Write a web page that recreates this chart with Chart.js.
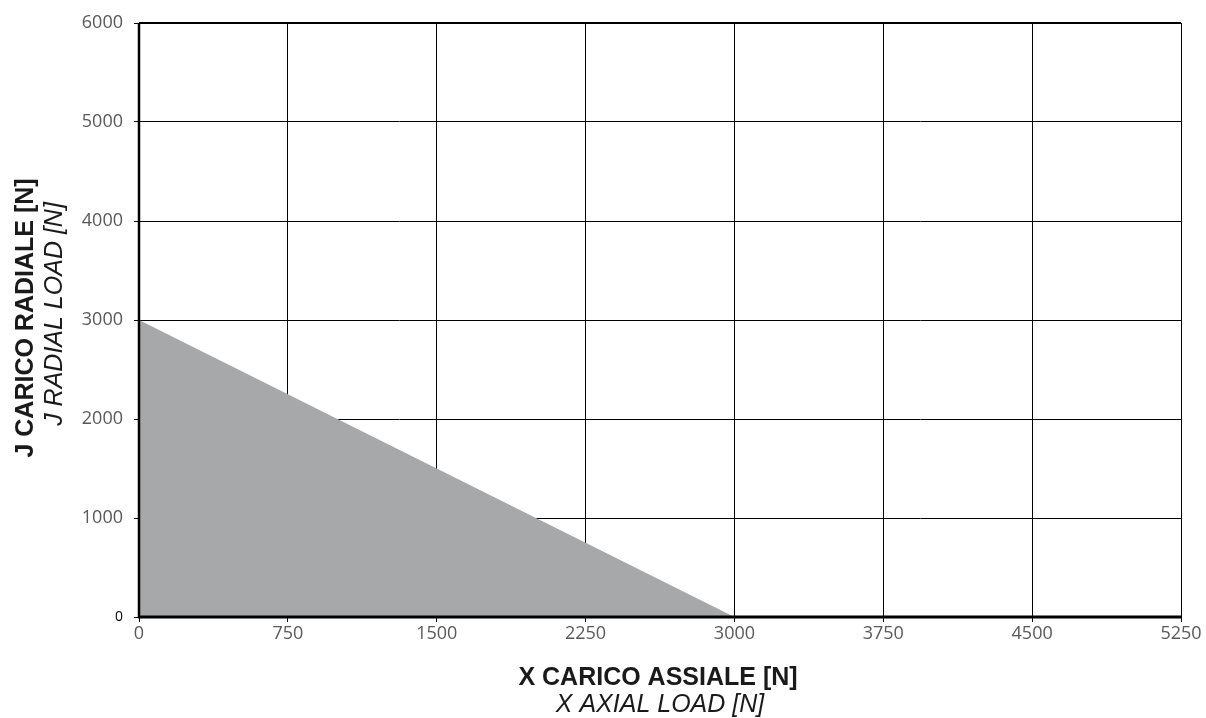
<!DOCTYPE html>
<html>
<head>
<meta charset="utf-8">
<script src="https://cdn.jsdelivr.net/npm/chart.js@4.4.1/dist/chart.umd.min.js"></script>
<style>
  html, body { margin: 0; padding: 0; background: #fff; }
  #wrap { width: 1206px; height: 718px; position: relative; }
</style>
</head>
<body>
<div id="wrap"><canvas id="loadChart" width="1206" height="718"></canvas></div>
<script>
// valori
let xTicks = [0, 750, 1500, 2250, 3000, 3750, 4500, 5250];
let yTicks = [0, 1000, 2000, 3000, 4000, 5000, 6000];
let axialLoad = [0, 3000];
let radialLoad = [3000, 0];

let xTitle = ["X CARICO ASSIALE [N]", "X AXIAL LOAD [N]"];
let yTitle = ["J CARICO RADIALE [N]", "J RADIAL LOAD [N]"];

// titoli degli assi (grassetto + corsivo) e cornice
const framePlugin = {
    id: 'frame',
    afterDatasetsDraw(chart) {
        let c = chart.ctx;
        let a = chart.chartArea;
        c.save();
        c.strokeStyle = '#000';
        c.lineWidth = 2.5;
        c.beginPath();
        c.moveTo(a.left, a.top);
        c.lineTo(a.left, a.bottom);
        c.stroke();
        c.lineWidth = 3;
        c.beginPath();
        c.moveTo(a.left - 1, a.bottom);
        c.lineTo(a.right, a.bottom);
        c.stroke();
        c.lineWidth = 2;
        c.beginPath();
        c.moveTo(a.left, a.top);
        c.lineTo(a.right, a.top);
        c.stroke();
        c.restore();
    },
    afterDraw(chart) {
        let c = chart.ctx;
        let a = chart.chartArea;
        c.save();
        c.fillStyle = '#1a1a1a';
        c.textAlign = 'center';
        c.textBaseline = 'alphabetic';
        let cx = (a.left + a.right) / 2;
        c.font = 'bold 25px "Liberation Sans", Arial, sans-serif';
        c.fillText(xTitle[0], cx - 2, 685);
        c.font = 'italic 25px "Liberation Sans", Arial, sans-serif';
        c.fillText(xTitle[1], cx, 712);

        c.translate(33, 318);
        c.rotate(-Math.PI / 2);
        c.font = 'bold 25px "Liberation Sans", Arial, sans-serif';
        c.fillText(yTitle[0], 0, 0);
        c.font = 'italic 25px "Liberation Sans", Arial, sans-serif';
        c.fillText(yTitle[1], 4, 29);
        c.restore();
    }
};

let ctx = document.getElementById('loadChart').getContext('2d');
let loadChart = new Chart(ctx, {
    type: 'line',
    data: {
        datasets: [{
            label: 'Area di carico',
            data: axialLoad.map((x, i) => ({ x: x, y: radialLoad[i] })),
            backgroundColor: '#a7a8aa',
            borderWidth: 0,
            pointRadius: 0,
            fill: 'origin',
            tension: 0
        }]
    },
    options: {
        responsive: false,
        animation: false,
        layout: { padding: { top: 23, right: 25, left: 0, bottom: 0 } },
        plugins: {
            legend: { display: false },
            tooltip: { enabled: false }
        },
        scales: {
            x: {
                type: 'linear',
                min: 0,
                max: 5250,
                afterBuildTicks: s => { s.ticks = xTicks.map(v => ({ value: v })); },
                afterFit: s => { s.height = 101; },
                border: { display: false },
                grid: { color: '#000', lineWidth: 1, tickLength: 5 },
                ticks: {
                    color: '#595959',
                    padding: 1,
                    maxRotation: 0,
                    callback: v => String(v),
                    font: { family: '"Open Sans", sans-serif', size: 18 }
                }
            },
            y: {
                type: 'linear',
                min: 0,
                max: 6000,
                afterBuildTicks: s => { s.ticks = yTicks.map(v => ({ value: v })); },
                afterFit: s => { s.width = 139; },
                border: { display: false },
                grid: { color: '#000', lineWidth: 1, tickLength: 5 },
                ticks: {
                    color: c => c.tick && c.tick.value === 0 ? '#000' : '#595959',
                    padding: 11,
                    callback: v => String(v),
                    font: c => ({
                        family: '"Open Sans", sans-serif',
                        size: c.tick && c.tick.value === 0 ? 14 : 18
                    })
                }
            }
        }
    },
    plugins: [framePlugin]
});
</script>
</body>
</html>
